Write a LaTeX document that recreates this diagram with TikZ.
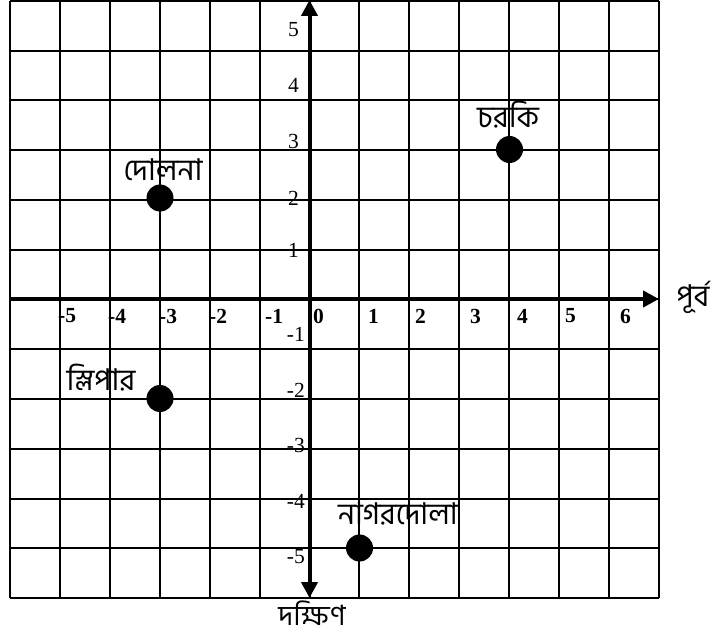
\documentclass[tikz,border=0pt]{standalone}
\usepackage{fontspec}
\setmainfont{Liberation Serif}
\newfontfamily\bn[Script=Bengali]{Hind Siliguri}
\usetikzlibrary{arrows.meta}
\begin{document}
\begin{tikzpicture}[x=1pt,y=-1pt,
  gridline/.style={line width=2pt},
  axisline/.style={line width=4pt},
  bigtip/.tip={Triangle[width=16pt,length=16pt]},
  dot/.style={circle, fill=black, minimum size=27pt, inner sep=0pt},
  bnlabel/.style={font=\bn\fontsize{30}{33}\selectfont, inner sep=0pt},
  ylab/.style={font=\fontsize{21.5}{23}\selectfont, anchor=east, inner sep=0pt},
  xlab/.style={font=\bfseries\fontsize{21.5}{23}\selectfont, anchor=west, inner sep=0pt}]
\fill[white] (0,0) rectangle (721,639);
\useasboundingbox (0,0) rectangle (721,639);
% grid
\foreach \i in {0,...,13} \draw[gridline] ({10+\i*49.92},1) -- ({10+\i*49.92},598);
\foreach \j in {0,...,12} \draw[gridline] (10,{1+\j*49.75}) -- (659,{1+\j*49.75});
% axes
\coordinate (xl) at (10,299);
\coordinate (xr) at (659,299);
\coordinate (yt) at (309.5,0);
\coordinate (yb) at (309.5,598);
\draw[axisline,-bigtip] (xl) -- (xr);
\draw[axisline,bigtip-bigtip] (yb) -- (yt);
% x labels
\node[xlab] (xm5) at (58,316) {-5};
\node[xlab] (xm4) at (108,316) {-4};
\node[xlab] (xm3) at (159,316) {-3};
\node[xlab] (xm2) at (209,316) {-2};
\node[xlab] (xm1) at (265,316) {-1};
\node[xlab] (x0) at (313,316) {0};
\node[xlab] (x1) at (368,316) {1};
\node[xlab] (x2) at (415,316) {2};
\node[xlab] (x3) at (470,316) {3};
\node[xlab] (x4) at (517,316) {4};
\node[xlab] (x5) at (565,316) {5};
\node[xlab] (x6) at (620,316) {6};
% y labels
\node[ylab] (y5) at (299,30) {5};
\node[ylab] (y4) at (299,85) {4};
\node[ylab] (y3) at (299,141) {3};
\node[ylab] (y2) at (299,198) {2};
\node[ylab] (y1) at (299,250) {1};
\node[ylab] (ym1) at (305,334) {-1};
\node[ylab] (ym2) at (305,390) {-2};
\node[ylab] (ym3) at (305,445) {-3};
\node[ylab] (ym4) at (305,501) {-4};
\node[ylab] (ym5) at (305,557) {-5};
% points
\node[dot] (p1) at (160,198) {};
\node[dot] (p2) at (509.5,149.5) {};
\node[dot] (p3) at (160,398.5) {};
\node[dot] (p4) at (359.5,548) {};
% labels
\node[bnlabel] (l1) at (163,170) {দোলনা};
\node[bnlabel] (l2) at (508,115) {চরকি};
\node[bnlabel] (l3) at (101,378) {স্লিপার};
\node[bnlabel] (l4) at (398,514) {নাগরদোলা};
\node[bnlabel, font=\bn\fontsize{28}{30}\selectfont, anchor=base] (south) at (312,625) {দক্ষিণ};
\node[bnlabel] (east) at (693,297) {পূর্ব};
\end{tikzpicture}
\end{document}
